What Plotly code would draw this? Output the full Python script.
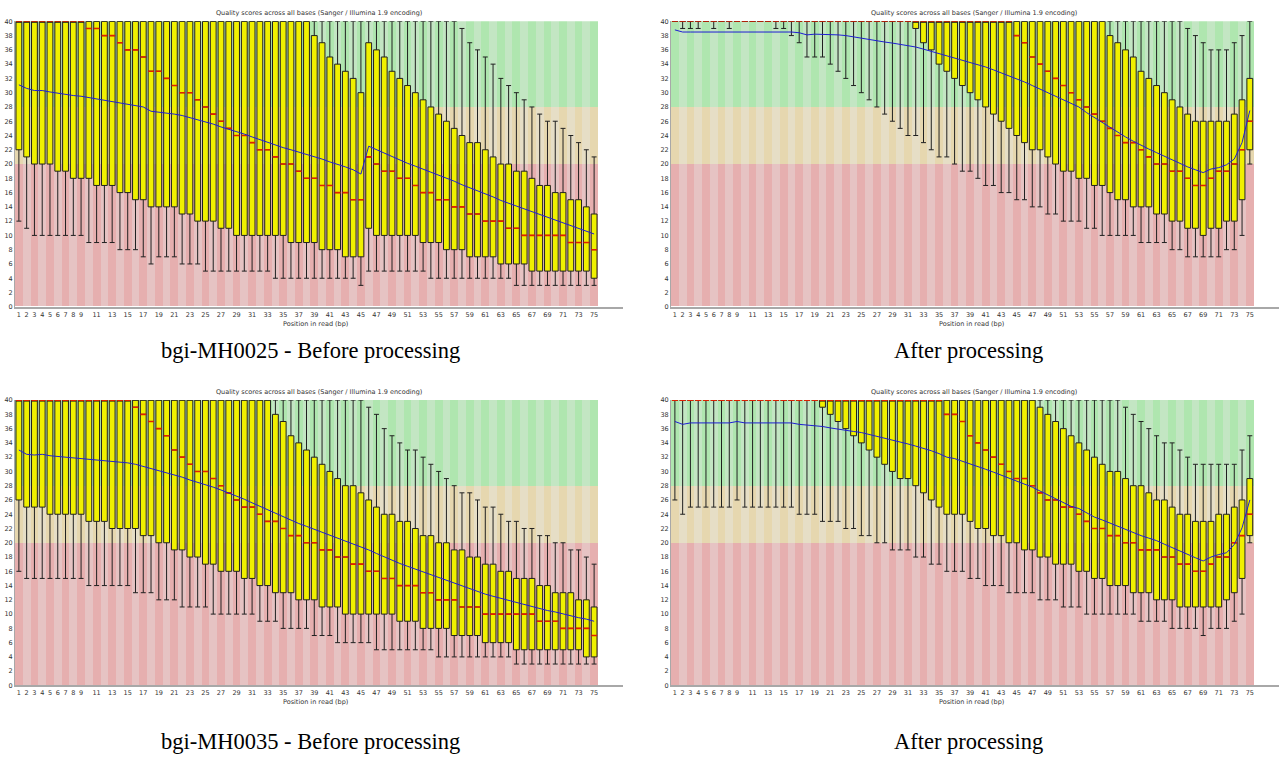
import plotly.graph_objects as go

positions = list(range(1, 76))
x_tick_vals = list(range(1, 10)) + list(range(11, 76, 2))
x_tick_text = [str(v) for v in x_tick_vals]
y_tick_vals = list(range(0, 41, 2))

band_low = [0, 20, 28]
band_high = [20, 28, 40]
band_dark = ["#E6AFAF", "#E6D7AF", "#AFE6AF"]
band_light = ["#E6C3C3", "#E6DEC6", "#C3E6C3"]

chart_title = "Quality scores across all bases (Sanger / Illumina 1.9 encoding)"
x_title = "Position in read (bp)"
captions = ["bgi-MH0025 - Before processing", "After processing",
            "bgi-MH0035 - Before processing", "After processing"]

# ---------------- bgi-MH0025 before ----------------
tl_lower = [12,11,10,10,10,10,10,10,10,9, 9,9,9,8,8,8,7,6,7,7, 7,6,6,6,5,5,5,5,5,5,
            5,5,5,4,4,4,4,4,4,4, 4,4,4,4,3,5,5,5,5,5, 5,5,5,4,4,4,4,4,4,4,
            4,4,4,4,3,3,3,3,3,3, 3,3,3,3,3]
tl_q1 = [22,21,20,20,20,19,19,18,18,18, 17,17,17,16,16,15,15,14,14,14, 14,13,13,12,12,12,11,11,10,10,
         10,10,10,10,10,9,9,9,9,8, 8,8,7,7,7,11,10,10,10,10, 10,10,9,9,9,8,8,8,7,7,
         7,7,6,6,6,6,5,5,5,5, 5,5,5,5,4]
tl_median = [40,40,40,40,40,40,40,40,40,39, 39,38,38,37,36,36,35,33,33,32, 31,30,30,29,28,27,26,25,24,24,
             23,22,22,21,20,20,19,18,18,17, 17,16,16,15,15,21,20,19,19,18, 18,17,16,16,15,15,14,14,13,13,
             12,12,12,11,11,10,10,10,10,10, 10,9,9,9,8]
tl_q3 = [40]*38 + [38,37, 35,34,33,32,30,37,36,35,33,32, 31,30,29,28,27,26,25,24,23,23,
                   22,21,20,20,19,19,18,17,17,16, 16,15,15,14,13]
tl_upper = [40]*57 + [39,37,36, 35,34,32,31,30,29,28,27,26,26, 25,24,23,22,21]
tl_mean = [31.1,30.6,30.3,30.3,30.1,29.9,29.8,29.6,29.5,29.3,
           29.1,28.9,28.8,28.6,28.4,28.2,28.0,27.4,27.3,27.2,
           27.0,26.8,26.5,26.3,25.9,25.6,25.2,24.9,24.5,24.2,
           23.8,23.4,23.0,22.6,22.3,22.0,21.7,21.3,21.0,20.7,
           20.3,20.0,19.6,19.2,18.6,22.5,22.0,21.5,21.0,20.6,
           20.1,19.7,19.3,18.9,18.4,18.0,17.6,17.1,16.7,16.3,
           15.8,15.4,14.9,14.5,14.1,13.7,13.3,12.9,12.5,12.1,
           11.7,11.3,10.9,10.6,10.2]

# ---------------- bgi-MH0025 after ----------------
tr_lower = [40,39,39,39,40,39,40,39,40,40, 40,40,40,39,39,38,37,35,35,35,
            34,33,32,31,30,29,28,27,26,25, 24,24,23,22,21,21,20,19,19,18,
            17,17,16,16,15,15,14,14,13,13, 12,12,12,11,11,10,10,10,10,10,
            9,9,9,9,8,8,7,7,7,7, 7,8,8,10,20]
tr_q1 = [40]*31 + [39,37,36,34,33,32,31,30,29, 28,27,26,25,24,23,22,22,21,20,
                   19,19,18,18,17,17,16,15,15,14, 14,14,13,13,12,12,11,11,10,11,
                   11,12,12,15,22]
tr_median = [40]*44 + [38,37,35,34,33,32, 31,30,29,28,27,26,25,24,23,23,
                       22,21,20,20,19,19,18,17,17,18, 19,19,20,22,26]
tr_q3 = [40]*56 + [38,37,36,35, 33,32,31,30,29,28,27,26,26,26, 26,26,27,29,32]
tr_upper = [40]*66 + [39,38,37,36, 36,36,37,38,40]
tr_mean = [38.8,38.5,38.5,38.5,38.5,38.5,38.6,38.6,38.6,38.6,
           38.5,38.5,38.5,38.5,38.5,38.5,38.4,38.1,38.2,38.2,
           38.2,38.1,38.0,37.8,37.65,37.5,37.2,37.1,36.95,36.8,
           36.6,36.4,36.1,35.8,35.5,35.2,34.8,34.5,34.2,33.9,
           33.6,33.2,32.8,32.4,32.0,31.5,31.0,30.5,30.0,29.5,
           29.0,28.5,28.0,27.2,26.5,25.8,25.1,24.5,23.8,23.2,
           22.6,22.1,21.6,21.1,20.5,20.0,19.6,19.2,18.8,19.3,
           19.5,19.9,20.7,23.0,27.5]

# ---------------- bgi-MH0035 before ----------------
bl_lower = [16,15,15,15,15,15,15,15,15,14, 14,14,14,14,14,13,13,13,12,12,
            12,11,11,11,11,10,10,10,10,10, 10,9,9,9,8,8,8,8,7,7,
            7,6,6,6,6,6,5,5,5,5, 5,5,5,5,4,4,4,4,4,4,
            4,4,4,4,3,3,3,3,3,3, 3,3,3,3,3]
bl_q1 = [26,25,25,25,24,24,24,24,24,23, 23,23,22,22,22,22,21,21,20,20,
         19,19,18,18,17,17,16,16,16,15, 15,14,14,13,13,13,12,12,12,11,
         11,11,10,10,10,10,10,10,10,9, 9,9,8,8,8,8,7,7,7,7,
         6,6,6,6,5,5,5,5,5,5, 5,5,5,4,4]
bl_median = [40]*15 + [39,38,37,36,35, 33,32,31,30,30,29,28,27,26,25,
                       25,24,23,23,22,21,21,20,20,19, 19,18,18,17,17,16,16,15,15,14,
                       14,14,13,13,12,12,12,11,11,11, 10,10,10,10,10,10,10,9,9,9,
                       8,8,8,8,7]
bl_q3 = [40]*33 + [38,37,35,34,33,32,31, 30,29,28,28,27,26,25,24,24,23,
                   23,22,21,21,20,20,19,19,18,18, 17,17,16,16,15,15,15,14,14,13,
                   13,13,12,12,11]
bl_upper = [40]*45 + [39,38,36,35,34, 33,33,32,31,30,29,28,27,27,26,
                      25,25,24,23,23,22,22,21,21,20, 20,19,19,18,17]
bl_mean = [33.0,32.4,32.3,32.4,32.2,32.1,32.0,31.9,31.9,31.8,
           31.7,31.5,31.4,31.3,31.2,31.0,30.7,30.5,30.2,29.9,
           29.5,29.2,28.8,28.5,28.1,27.8,27.4,27.0,26.6,26.1,
           25.6,25.1,24.6,24.1,23.6,23.1,22.7,22.3,21.9,21.5,
           21.1,20.7,20.3,19.9,19.4,19.0,18.5,18.0,17.5,17.1,
           16.7,16.3,15.9,15.5,15.1,14.7,14.4,14.0,13.6,13.2,
           12.8,12.5,12.2,11.9,11.6,11.3,11.0,10.8,10.5,10.3,
           10.0,9.8,9.5,9.3,9.0]

# ---------------- bgi-MH0035 after ----------------
br_lower = [26,24,25,25,25,25,25,25,26,25, 25,25,25,25,25,25,24,24,24,23,
            23,23,22,22,21,21,20,20,19,19, 19,18,18,17,17,16,16,16,15,15,
            14,14,14,13,13,13,13,12,12,12, 11,11,11,10,10,10,10,10,10,10,
            9,9,9,9,8,8,8,8,7,8, 8,8,9,10,20]
br_q1 = [40]*19 + [39, 38,37,36,35,34,33,32,31,30,29, 29,28,27,26,25,24,24,24,23,22,
                   22,21,21,20,20,19,19,18,18,17, 17,17,16,16,15,15,14,14,14,13,
                   13,13,12,12,12,11,11,11,11,11, 11,12,13,15,21]
br_median = [40]*35 + [38,37+1,37,35,34, 33,32,31,30,29,29,28,27,26,26,
                       25,25,24,23,22,22,21,21,20,20, 19,19,19,18,18,17,17,16,16,17,
                       18,18,20,21,24]
br_q3 = [40]*47 + [39,38,37, 36,35,34,33,32,31,30,30,29,28,
                   28,27,26,26,25,24,24,23,23,23, 24,24,25,26,29]
br_upper = [40]*58 + [39,38, 37,36,35,34,34,33,32,31,31,31, 31,31,31,33,35]
br_mean = [37.0,36.6,36.8,36.8,36.8,36.8,36.8,36.8,37.0,36.8,
           36.8,36.8,36.8,36.8,36.8,36.8,36.6,36.5,36.45,36.3,
           36.1,35.9,35.8,35.6,35.45,35.2,34.9,34.7,34.45,34.15,
           33.85,33.55,33.25,32.9,32.5,32.0,31.8,31.45,31.1,30.7,
           30.3,29.9,29.5,29.05,28.6,28.2,27.8,27.25,26.7,26.15,
           25.6,25.1,24.8,24.2,23.6,23.2,22.75,22.3,21.85,21.4,
           21.0,20.65,20.3,19.8,19.3,18.8,18.35,17.9,17.45,18.0,
           18.35,18.6,19.75,22.1,26.0]

panels = [
    dict(lower=tl_lower, q1=tl_q1, median=tl_median, q3=tl_q3, upper=tl_upper, mean=tl_mean),
    dict(lower=tr_lower, q1=tr_q1, median=tr_median, q3=tr_q3, upper=tr_upper, mean=tr_mean),
    dict(lower=bl_lower, q1=bl_q1, median=bl_median, q3=bl_q3, upper=bl_upper, mean=bl_mean),
    dict(lower=br_lower, q1=br_q1, median=br_median, q3=br_q3, upper=br_upper, mean=br_mean),
]

W, H = 1281, 760
# pixel geometry of the panels
x_px = [(15, 598.0, 622.7), (671, 1253.7, 1278.7)]   # left, end of pos 75.5, axis end
y_px = [(17.5, 306.0), (400.3, 688.7)]               # y of 40, y of 0
title_x = [318.5, 974.0]
title_y = [9.3, 392.3]
xt_x = [315.0, 971.5]
xt_y = [323.3, 705.7]
cap_x = [310.5, 969.0]
cap_y = [350.0, 745.0]

fig = go.Figure()
layout_axes = {}
annotations = []

for i, p in enumerate(panels):
    col = i % 2
    row = i // 2
    xa = "x" if i == 0 else f"x{i+1}"
    ya = "y" if i == 0 else f"y{i+1}"
    # background bands
    for lo, hi, dk, lt in zip(band_low, band_high, band_dark, band_light):
        fig.add_trace(go.Bar(
            x=positions, y=[hi - lo] * len(positions), base=lo, width=1,
            marker=dict(color=[dk if q % 2 == 1 else lt for q in positions], line=dict(width=0)),
            xaxis=xa, yaxis=ya, hoverinfo="skip", showlegend=False))
    fig.add_trace(go.Box(
        x=positions, q1=p["q1"], median=p["median"], q3=p["q3"],
        lowerfence=p["lower"], upperfence=p["upper"],
        width=0.75, whiskerwidth=0.85, fillcolor="#F0F000",
        line=dict(color="#202020", width=1), boxpoints=False,
        xaxis=xa, yaxis=ya, hoverinfo="skip", showlegend=False))
    fig.add_trace(go.Scatter(
        x=positions, y=p["median"], mode="markers",
        marker=dict(symbol="line-ew", size=4.2, line=dict(color="#E02000", width=1.6)),
        xaxis=xa, yaxis=ya, hoverinfo="skip", showlegend=False))
    fig.add_trace(go.Scatter(
        x=positions, y=p["mean"], mode="lines",
        line=dict(color="#1E1ED2", width=1),
        xaxis=xa, yaxis=ya, hoverinfo="skip", showlegend=False))

    xl, x75, xend = x_px[col]
    unit = (x75 - xl) / 75.0
    xmax = 75.5 + (xend - x75) / unit
    ytop, ybot = y_px[row]
    key_x = "xaxis" if i == 0 else f"xaxis{i+1}"
    key_y = "yaxis" if i == 0 else f"yaxis{i+1}"
    layout_axes[key_x] = dict(
        domain=[xl / W, xend / W], range=[0.5, xmax], anchor=ya,
        tickmode="array", tickvals=x_tick_vals, ticktext=x_tick_text,
        tickfont=dict(family="DejaVu Sans", size=6.5, color="#333333"),
        showline=True, linecolor="#A8A8A8", linewidth=2, ticks="",
        showgrid=False, zeroline=False, fixedrange=True)
    layout_axes[key_y] = dict(
        domain=[1 - ybot / H, 1 - ytop / H], range=[0, 40], anchor=xa,
        tickmode="array", tickvals=y_tick_vals,
        tickfont=dict(family="DejaVu Sans", size=6.5, color="#333333"),
        showline=True, linecolor="#A8A8A8", linewidth=1, ticks="",
        showgrid=False, zeroline=False, fixedrange=True)

    annotations.append(dict(text=chart_title, x=title_x[col] / W, y=1 - title_y[row] / H,
                            xref="paper", yref="paper", showarrow=False,
                            xanchor="center", yanchor="middle",
                            font=dict(family="DejaVu Sans", size=6.5, color="#333333")))
    annotations.append(dict(text=x_title, x=xt_x[col] / W, y=1 - xt_y[row] / H,
                            xref="paper", yref="paper", showarrow=False,
                            xanchor="center", yanchor="middle",
                            font=dict(family="DejaVu Sans", size=6.5, color="#333333")))
    annotations.append(dict(text=captions[i], x=cap_x[col] / W, y=1 - cap_y[row] / H,
                            xref="paper", yref="paper", showarrow=False,
                            xanchor="center", yanchor="middle",
                            font=dict(family="Liberation Serif", size=22.5, color="#000000")))

fig.update_layout(
    width=W, height=H, margin=dict(l=0, r=0, t=0, b=0),
    paper_bgcolor="white", plot_bgcolor="white",
    barmode="overlay", bargap=0, showlegend=False,
    annotations=annotations, **layout_axes)

fig.write_html("out.html")
